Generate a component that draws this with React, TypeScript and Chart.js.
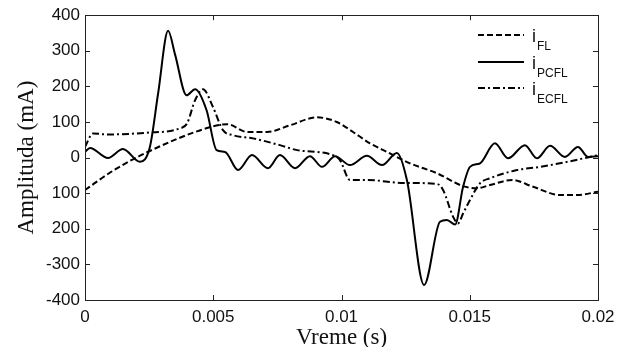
import React, { useEffect, useRef } from "react";
import { Chart, registerables } from "chart.js";

Chart.register(...registerables);

// ---- data ----
const flX = [0, 0.00109, 0.00242, 0.00476, 0.00554, 0.00632, 0.0071, 0.008, 0.00904, 0.00982, 0.01045, 0.01111, 0.01177, 0.01267, 0.01372, 0.01474, 0.01528, 0.01579, 0.01665, 0.01747, 0.01852, 0.01918, 0.02];
const flY = [-91, -37, 15, 83, 94, 72, 72, 91, 113, 100, 72, 40, 16, -16, -44, -80, -86, -77, -63, -82, -105, -105, -96];

const pcflX = [0, 0.000195, 0.000897, 0.00148, 0.00214, 0.00253, 0.00285, 0.00324, 0.00351, 0.00396, 0.00429, 0.00474, 0.00513, 0.00546, 0.00597, 0.00651, 0.00713, 0.0076, 0.00819, 0.00877, 0.00924, 0.00975, 0.01033, 0.01099, 0.01158, 0.01216, 0.01255, 0.01322, 0.01384, 0.01411, 0.01443, 0.01474, 0.01501, 0.0154, 0.01598, 0.01649, 0.01715, 0.01762, 0.01813, 0.01871, 0.01922, 0.01961, 0.02];
const pcflY = [16, 27, -1, 24, -12, 30, 180, 356, 290, 175, 192, 133, 21, 16, -35, 7, -30, 7, -30, 4, -26, 4, -21, 5, -21, 13, -63, -358, -180, -175, -188, -82, -26, -16, 40, -2, 35, -2, 33, 2, 30, 2, 4];

const ecflX = [0, 0.00031, 0.00086, 0.00242, 0.0037, 0.00398, 0.00429, 0.0046, 0.00499, 0.00538, 0.00577, 0.00655, 0.0076, 0.00827, 0.00967, 0.00994, 0.01033, 0.01099, 0.0124, 0.01372, 0.01396, 0.01435, 0.01454, 0.01474, 0.01501, 0.0154, 0.01579, 0.01684, 0.01774, 0.01879, 0.02];
const ecflY = [30, 68, 65, 70, 82, 96, 161, 192, 142, 77, 63, 54, 35, 21, 7, -7, -63, -63, -71, -74, -91, -166, -185, -157, -119, -72, -58, -35, -26, -12, 7];

const xTickValues = [0, 0.005, 0.01, 0.015, 0.02];
const xTickLabels = ["0", "0.005", "0.01", "0.015", "0.02"];
const yTickValues = [400, 300, 200, 100, 0, -100, -200, -300, -400];
const yTickLabels = ["400", "300", "200", "100", "0", "100", "200", "-300", "-400"];

const legendSubs = ["FL", "PCFL", "ECFL"];
const seriesDashes: number[][] = [[6, 3], [], [7, 3, 2, 3]];

const toPoints = (xs: number[], ys: number[]) => xs.map((x, i) => ({ x, y: ys[i] }));

const boxPlugin = {
  id: "matlabBox",
  afterDraw(chart: any) {
    const { ctx, chartArea: a, scales } = chart;
    const xs = scales.x;
    const ys = scales.y;
    ctx.save();
    ctx.strokeStyle = "#222";
    ctx.lineWidth = 1;
    ctx.setLineDash([]);
    ctx.strokeRect(Math.round(a.left) + 0.5, Math.round(a.top) + 0.5, Math.round(a.right - a.left), Math.round(a.bottom - a.top));
    const tl = 5;
    ctx.beginPath();
    xTickValues.forEach((v) => {
      const px = Math.round(xs.getPixelForValue(v)) + 0.5;
      ctx.moveTo(px, a.bottom);
      ctx.lineTo(px, a.bottom - tl);
      ctx.moveTo(px, a.top);
      ctx.lineTo(px, a.top + tl);
    });
    yTickValues.forEach((v) => {
      const py = Math.round(ys.getPixelForValue(v)) + 0.5;
      ctx.moveTo(a.left, py);
      ctx.lineTo(a.left + tl, py);
      ctx.moveTo(a.right, py);
      ctx.lineTo(a.right - tl, py);
    });
    ctx.stroke();

    // legend
    const lx0 = 478, lx1 = 524;
    const rows = [35, 62, 88];
    rows.forEach((ry, i) => {
      ctx.beginPath();
      ctx.setLineDash(seriesDashes[i]);
      ctx.lineWidth = 2;
      ctx.strokeStyle = "#000";
      ctx.moveTo(lx0, ry);
      ctx.lineTo(lx1, ry);
      ctx.stroke();
      ctx.setLineDash([]);
      ctx.fillStyle = "#111";
      ctx.textBaseline = "alphabetic";
      ctx.textAlign = "left";
      ctx.font = "18px 'Liberation Sans', Arial, sans-serif";
      ctx.fillText("i", 532, ry + 7);
      ctx.font = "12px 'Liberation Sans', Arial, sans-serif";
      ctx.fillText(legendSubs[i], 537, ry + 15);
    });
    ctx.restore();
  },
};

export default function App() {
  const ref = useRef<HTMLCanvasElement | null>(null);
  useEffect(() => {
    document.body.style.margin = "0";
    const canvas = ref.current;
    if (!canvas) return;
    const chart = new Chart(canvas, {
      type: "line",
      data: {
        datasets: [
          { label: "iFL", data: toPoints(flX, flY), borderColor: "#000", borderWidth: 2, borderDash: seriesDashes[0], pointRadius: 0, cubicInterpolationMode: "monotone", fill: false },
          { label: "iPCFL", data: toPoints(pcflX, pcflY), borderColor: "#000", borderWidth: 2, borderDash: seriesDashes[1], pointRadius: 0, cubicInterpolationMode: "monotone", fill: false },
          { label: "iECFL", data: toPoints(ecflX, ecflY), borderColor: "#000", borderWidth: 2, borderDash: seriesDashes[2], pointRadius: 0, cubicInterpolationMode: "monotone", fill: false },
        ],
      },
      options: {
        responsive: false,
        animation: false,
        events: [],
        layout: { padding: { left: 13, top: 15, right: 30, bottom: 0 } },
        plugins: { legend: { display: false }, tooltip: { enabled: false } },
        scales: {
          x: {
            type: "linear",
            min: 0,
            max: 0.02,
            afterBuildTicks: (s: any) => { s.ticks = xTickValues.map((v) => ({ value: v })); },
            afterFit: (s: any) => { s.height = 47; },
            grid: { display: false, drawTicks: false },
            border: { display: false },
            ticks: {
              padding: 7,
              color: "#111",
              font: { family: "'Liberation Sans', Arial, sans-serif", size: 17 },
              callback: (v: any) => { const i = xTickValues.indexOf(v); return i >= 0 ? xTickLabels[i] : ""; },
              maxRotation: 0,
            },
            title: { display: true, text: "Vreme (s)", color: "#111", padding: 0, font: { family: "'Liberation Serif', 'Times New Roman', serif", size: 23, lineHeight: 0.8 } },
          },
          y: {
            type: "linear",
            min: -400,
            max: 400,
            afterBuildTicks: (s: any) => { s.ticks = yTickValues.map((v) => ({ value: v })); },
            afterFit: (s: any) => { s.width = 72; },
            grid: { display: false, drawTicks: false },
            border: { display: false },
            ticks: {
              padding: 5,
              color: "#111",
              font: { family: "'Liberation Sans', Arial, sans-serif", size: 17 },
              callback: (v: any) => { const i = yTickValues.indexOf(v); return i >= 0 ? yTickLabels[i] : ""; },
            },
            title: { display: true, text: "Amplituda (mA)", color: "#111", padding: 0, font: { family: "'Liberation Serif', 'Times New Roman', serif", size: 23 } },
          },
        },
      },
      plugins: [boxPlugin],
    } as any);
    return () => chart.destroy();
  }, []);
  return (
    <div style={{ width: 628, height: 347, background: "#fff" }}>
      <canvas ref={ref} width={628} height={347} style={{ display: "block" }} />
    </div>
  );
}
